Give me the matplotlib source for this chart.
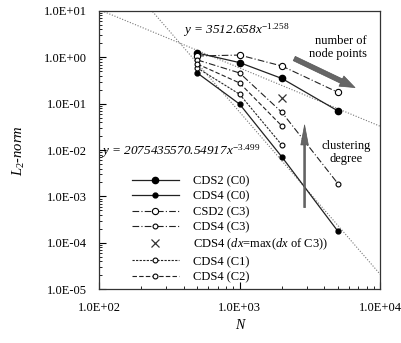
import numpy as np
import matplotlib
matplotlib.use("Agg")
import matplotlib.pyplot as plt
from matplotlib.ticker import FuncFormatter, LogLocator, NullFormatter

plt.rcParams['font.family'] = ['Liberation Serif', 'DejaVu Serif']
plt.rcParams['mathtext.fontset'] = 'custom'
plt.rcParams['mathtext.rm'] = 'Liberation Serif'
plt.rcParams['mathtext.it'] = 'Liberation Serif:italic'
plt.rcParams['font.size'] = 9

# number of node points
N = [500, 1000, 2000, 5000]
N3 = [500, 1000, 2000]
N_dx = [2000]

# L2-norm of the error
cds2_c0 = [1.24, 0.77, 0.35, 0.070]
cds4_c0 = [0.46, 0.098, 0.0071, 0.000178]
csd2_c3 = [1.07, 1.12, 0.65, 0.176]
cds4_c3 = [0.88, 0.46, 0.065, 0.0019]
cds4_dx = [0.13]
cds4_c1 = [0.59, 0.16, 0.0128]
cds4_c2 = [0.72, 0.28, 0.033]

# power-law fits written on the chart: y = a * x^b
fit1 = (3512.658, -1.258)
fit2 = (2075435570.54917, -3.499)

fig = plt.figure(figsize=(4.01, 3.43), dpi=100)
ax = fig.add_axes([0.247, 0.157, 0.701, 0.811])

xf = np.logspace(2, 4, 200)
ax.plot(xf, fit1[0] * xf ** fit1[1], color='#777777', lw=0.8, ls=(0, (1, 1.5)))
ax.plot(xf, fit2[0] * xf ** fit2[1], color='#777777', lw=0.8, ls=(0, (1, 1.5)))

lc = '#222222'
ax.plot(N, cds2_c0, color=lc, lw=0.9, ls='-', marker='o', ms=4.5,
        mfc='k', mec='k', label='CDS2 (C0)')
ax.plot(N, cds4_c0, color=lc, lw=0.9, ls='-', marker='o', ms=3.5,
        mfc='k', mec='k', label='CDS4 (C0)')
ax.plot(N, csd2_c3, color=lc, lw=0.8, ls=(0, (6, 2, 1, 2)), marker='o', ms=4.5,
        mfc='white', mec='k', mew=0.8, label='CSD2 (C3)')
ax.plot(N, cds4_c3, color=lc, lw=0.8, ls=(0, (6, 2, 1, 2)), marker='o', ms=3.5,
        mfc='white', mec='k', mew=0.8, label='CDS4 (C3)')
ax.plot(N_dx, cds4_dx, ls='none', marker='x', ms=6, mec='#333333', mew=0.9,
        label=r'CDS4 ($dx$=max($dx$ of C3))')
ax.plot(N3, cds4_c1, color=lc, lw=0.8, ls=(0, (2, 1.2)), marker='o', ms=3.5,
        mfc='white', mec='k', mew=0.8, label='CDS4 (C1)')
ax.plot(N3, cds4_c2, color=lc, lw=0.8, ls=(0, (4, 2)), marker='o', ms=3.5,
        mfc='white', mec='k', mew=0.8, label='CDS4 (C2)')

ax.set_xscale('log')
ax.set_yscale('log')
ax.set_xlim(100, 10000)
ax.set_ylim(1e-5, 10)

fmt = FuncFormatter(lambda v, p: f"{v:.1E}")
ax.xaxis.set_major_formatter(fmt)
ax.yaxis.set_major_formatter(fmt)
ax.xaxis.set_minor_locator(LogLocator(base=10, subs=np.arange(2, 10)))
ax.yaxis.set_minor_locator(LogLocator(base=10, subs=np.arange(2, 10)))
ax.xaxis.set_minor_formatter(NullFormatter())
ax.yaxis.set_minor_formatter(NullFormatter())
ax.tick_params(which='major', direction='in', length=5, width=0.8, pad=9)
ax.tick_params(which='minor', direction='in', length=2.5, width=0.6)
for s in ax.spines.values():
    s.set_linewidth(0.9)
    s.set_color('#333333')

ax.set_xlabel('N', style='italic', fontsize=10, labelpad=4)
ax.set_ylabel(r'$L_2$-$norm$', fontsize=10.5, labelpad=12)

ax.text(940, 3.8, r'y = 3512.658$x^{\mathrm{-1.258}}$', style='italic',
        ha='center', va='center', fontsize=9.5)
ax.text(104, 0.0095, r'y = 2075435570.54917$x^{\mathrm{-3.499}}$', style='italic',
        ha='left', va='center', fontsize=9.5)

ax.text(5000, 1.65, 'number of\nnode points', ha='center', va='center',
        multialignment='right', linespacing=1.15)
ax.text(5700, 0.0088, 'clustering\ndegree', ha='center', va='center',
        multialignment='center', linespacing=1.15)

ax.annotate('', xy=(6900, 0.21), xytext=(2350, 1.0),
            arrowprops=dict(arrowstyle='simple,head_width=0.9,head_length=1.2,tail_width=0.38',
                            fc='#666666', ec='#555555', lw=0.5))
ax.annotate('', xy=(2900, 0.040), xytext=(2900, 5.0e-4),
            arrowprops=dict(arrowstyle='simple,head_width=0.6,head_length=1.6,tail_width=0.13',
                            fc='#666666', ec='#555555', lw=0.5))

ax.legend(loc='lower left', bbox_to_anchor=(0.08, -0.015), frameon=False,
          numpoints=1, handlelength=3.8, handletextpad=1.1, labelspacing=0.28,
          borderpad=0.3, fontsize=9)

fig.savefig('out.png', dpi=100)
